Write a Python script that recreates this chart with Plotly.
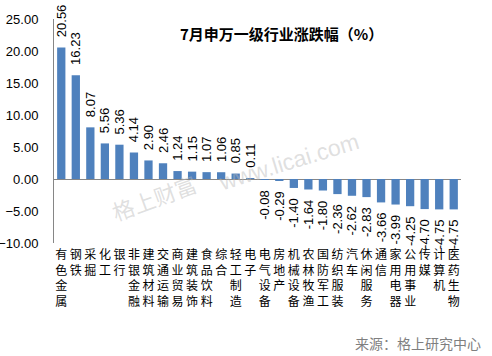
import plotly.graph_objects as go

categories = ["有色金属", "钢铁", "采掘", "化工", "银行", "非银金融", "建筑材料", "交通运输",
              "商业贸易", "建筑装饰", "食品饮料", "综合", "轻工制造", "电子", "电气设备", "房地产",
              "机械设备", "农林牧渔", "国防军工", "纺织服装", "汽车", "休闲服务", "通信", "家用电器",
              "公用事业", "传媒", "计算机", "医药生物"]
values = [20.56, 16.23, 8.07, 5.56, 5.36, 4.14, 2.90, 2.46, 1.24, 1.15, 1.07, 1.06, 0.85, 0.11,
          -0.08, -0.29, -1.40, -1.64, -1.80, -2.36, -2.62, -2.83, -3.66, -3.99, -4.25, -4.70,
          -4.75, -4.75]
y_ticks = [-10, -5, 0, 5, 10, 15, 20, 25]
title_text = "7月申万一级行业涨跌幅（%）"
source_text = "来源：格上研究中心"

tick_text = ["<br>".join(list(c)) for c in categories]
pad = "\u00a0\u00a0"
bar_text = [(pad + f"{v:.2f}") if v >= 0 else (f"{v:.2f}" + pad) for v in values]

W, H = 492, 356
L, R, T, B = 54, 461, 19, 243

def px(x):
    return (x - L) / (R - L)

def py(y):
    return (B - y) / (B - T)

fig = go.Figure(go.Bar(
    x=categories, y=values,
    marker=dict(color="#4F81BD", line=dict(width=0)),
    text=bar_text,
    textposition="outside", textangle=-90,
    textfont=dict(family="Liberation Sans, Arial, sans-serif", size=13, color="#000000"),
    constraintext="none", cliponaxis=False,
))

fig.update_layout(
    width=W, height=H,
    margin=dict(l=L, r=W - R, t=T, b=H - B, pad=0, autoexpand=False),
    paper_bgcolor="white", plot_bgcolor="white",
    bargap=0.43, showlegend=False,
    font=dict(family="Liberation Sans, Arial, sans-serif", color="#000000"),
    xaxis=dict(
        tickmode="array", tickvals=categories, ticktext=tick_text,
        tickangle=0, showline=False, showgrid=False, ticks="",
        tickfont=dict(family="Noto Sans CJK SC", size=12, color="#000000"),
        ticklabelstandoff=3, automargin=False,
    ),
    yaxis=dict(
        range=[-10, 25], tickvals=y_ticks, tickformat=".2f",
        showgrid=False, zeroline=True, zerolinecolor="#868686", zerolinewidth=1,
        showline=True, linecolor="#868686", linewidth=1, ticks="",
        tickfont=dict(family="Liberation Sans, Arial, sans-serif", size=13, color="#000000"),
        ticklabelstandoff=12, automargin=False,
    ),
    annotations=[
        dict(text=title_text, x=px(281), y=py(33), xref="paper", yref="paper",
             showarrow=False, xanchor="center", yanchor="middle",
             font=dict(family="Noto Sans CJK SC", size=15, color="#000000", weight="bold")),
        dict(text=source_text, x=px(483), y=py(343), xref="paper", yref="paper",
             showarrow=False, xanchor="right", yanchor="middle",
             font=dict(family="Noto Sans CJK SC", size=14, color="#7f7f7f")),
        dict(text="格上财富", x=px(154), y=py(197), xref="paper", yref="paper",
             showarrow=False, xanchor="center", yanchor="middle", textangle=-20,
             font=dict(family="Noto Sans CJK SC", size=22, color="rgba(185,185,185,0.45)")),
        dict(text="www.licai.com", x=px(288), y=py(162), xref="paper", yref="paper",
             showarrow=False, xanchor="center", yanchor="middle", textangle=-17,
             font=dict(family="Liberation Sans, Arial, sans-serif", size=23, color="rgba(185,185,185,0.45)")),
    ],
)

fig.write_html("out.html", config={"displayModeBar": False},
               post_script="document.body.style.margin='0px';document.body.style.overflow='hidden';")
